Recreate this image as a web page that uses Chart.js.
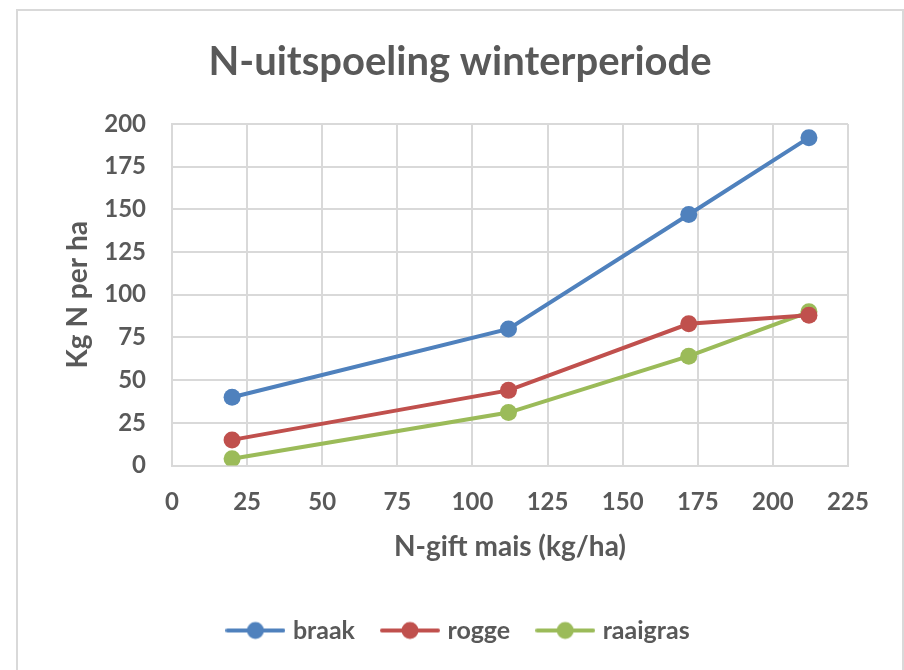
<!DOCTYPE html>
<html>
<head>
<meta charset="utf-8">
<script src="https://cdn.jsdelivr.net/npm/chart.js@4.4.1/dist/chart.umd.min.js"></script>
<style>
  html, body { margin: 0; padding: 0; background: #fff; }
  #wrap { position: relative; width: 904px; height: 670px; overflow: hidden; }
  #frame { position: absolute; left: 16px; top: 9px; width: 884px; height: 700px; border: 2px solid #d9d9d9; pointer-events: none; }
  canvas { position: absolute; left: 0; top: 0; }
</style>
</head>
<body>
<div id="wrap">
  <canvas id="chart" width="904" height="670"></canvas>
  <div id="frame"></div>
</div>
<script>
// N-gift mais (kg/ha) on x, Kg N per ha on y
const nGift = [20, 112, 172, 212];
const braak = [40, 80, 147, 192];
const rogge = [15, 44, 83, 88];
const raaigras = [4, 31, 64, 90];

const seriesNames = ["braak", "rogge", "raaigras"];
const seriesColours = ["#4f81bd", "#c0504d", "#9bbb59"];
const xTicks = [0, 25, 50, 75, 100, 125, 150, 175, 200, 225];
const yTicks = [0, 25, 50, 75, 100, 125, 150, 175, 200];

const textColour = "#595959";
const gridColour = "#d9d9d9";
const fontFamily = "Lato, 'Open Sans', sans-serif";

function toPoints(ys) {
  return nGift.map((x, i) => ({ x, y: ys[i] }));
}

// legend marker: line with a dot in the middle, like Excel
function legendMarker(colour) {
  const c = document.createElement("canvas");
  c.width = 60;
  c.height = 20;
  const ctx = c.getContext("2d");
  ctx.strokeStyle = colour;
  ctx.lineWidth = 4;
  ctx.lineCap = "round";
  ctx.beginPath();
  ctx.moveTo(2, 10);
  ctx.lineTo(58, 10);
  ctx.stroke();
  ctx.fillStyle = colour;
  ctx.beginPath();
  ctx.arc(30, 10, 8.5, 0, Math.PI * 2);
  ctx.fill();
  return c;
}

const allValues = [braak, rogge, raaigras];
const datasets = seriesNames.map((name, i) => ({
  label: name,
  data: toPoints(allValues[i]),
  borderColor: seriesColours[i],
  backgroundColor: seriesColours[i],
  borderWidth: 4,
  pointRadius: 8.5,
  pointHoverRadius: 8.5,
  pointBorderWidth: 0,
  showLine: true,
  tension: 0
}));
const markers = seriesColours.map(legendMarker);

new Chart(document.querySelector("#chart"), {
  type: "scatter",
  data: { datasets },
  options: {
    responsive: false,
    animation: false,
    // uneven side padding so title and legend sit a bit right of canvas centre, as in Excel
    layout: { padding: { left: 72, right: 56, top: 0, bottom: 17 } },
    scales: {
      x: {
        type: "linear",
        min: 0,
        max: 225,
        afterBuildTicks: axis => { axis.ticks = xTicks.map(v => ({ value: v })); },
        grid: { color: gridColour, lineWidth: 2, drawTicks: false },
        border: { color: gridColour, width: 2 },
        ticks: { color: textColour, padding: 22, font: { family: fontFamily, size: 24, weight: "bold" } },
        title: {
          display: true,
          text: "N-gift mais (kg/ha)",
          color: textColour,
          padding: { top: -8.6, bottom: 24.7 },
          font: { family: fontFamily, size: 28, weight: "bold" }
        }
      },
      y: {
        type: "linear",
        min: 0,
        max: 200,
        afterBuildTicks: axis => { axis.ticks = yTicks.map(v => ({ value: v })); },
        afterFit: axis => { axis.width = 100; },
        grid: { color: gridColour, lineWidth: 2, drawTicks: false },
        border: { color: gridColour, width: 2 },
        ticks: { color: textColour, padding: 26, font: { family: fontFamily, size: 24, weight: "bold" } },
        title: {
          display: true,
          text: "Kg N per ha",
          color: textColour,
          padding: { top: -10.8, bottom: 0 },
          font: { family: fontFamily, size: 28, weight: "bold" }
        }
      }
    },
    plugins: {
      title: {
        display: true,
        text: "N-uitspoeling winterperiode",
        color: textColour,
        padding: { top: 38, bottom: 38 },
        font: { family: fontFamily, size: 40, weight: "bold" }
      },
      legend: {
        position: "bottom",
        labels: {
          color: textColour,
          usePointStyle: true,
          pointStyleWidth: 50,
          padding: 30,
          font: { family: fontFamily, size: 25, weight: "bold" },
          generateLabels: chart => chart.data.datasets.map((ds, i) => ({
            text: ds.label,
            fillStyle: ds.borderColor,
            strokeStyle: ds.borderColor,
            pointStyle: markers[i],
            fontColor: textColour,
            lineWidth: 0,
            hidden: false,
            datasetIndex: i
          }))
        }
      },
      tooltip: { enabled: false }
    }
  }
});
</script>
</body>
</html>
